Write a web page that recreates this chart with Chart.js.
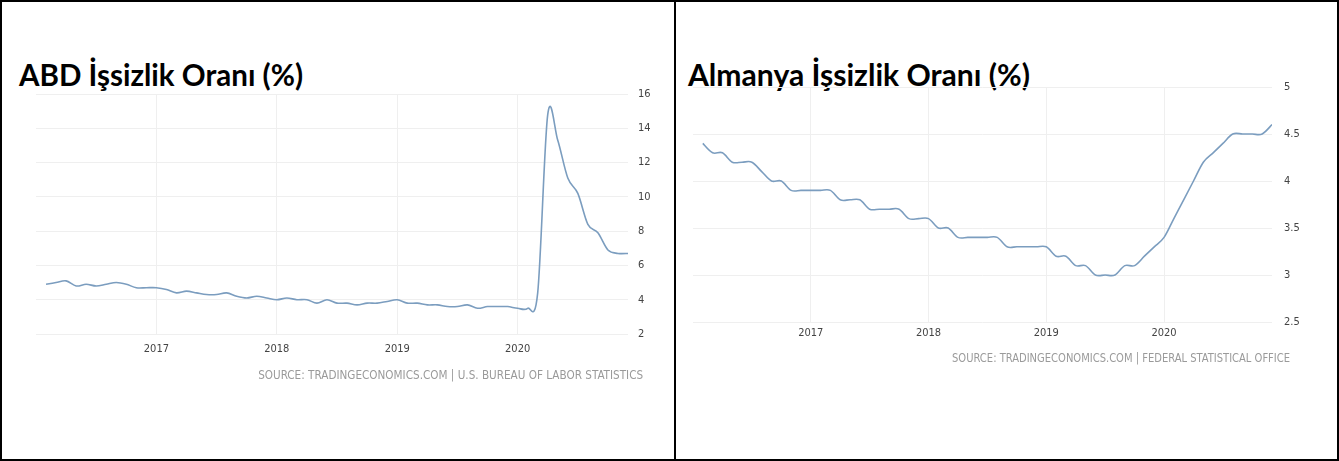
<!DOCTYPE html>
<html>
<head>
<meta charset="utf-8">
<script src="https://cdn.jsdelivr.net/npm/chart.js@4.4.0/dist/chart.umd.min.js"></script>
<style>
  html, body { margin: 0; padding: 0; background: #fff; }
  body { width: 1339px; height: 461px; position: relative; overflow: hidden; }
  .panel { position: absolute; top: 0; height: 461px; border: 2px solid #000; box-sizing: border-box; }
  .title { position: absolute; top: 56px; font-family: Lato, 'Open Sans', sans-serif; font-weight: 700;
           font-size: 30px; color: #000; white-space: nowrap; transform-origin: left center; }
  .source { position: absolute; font-family: 'Liberation Sans Narrow', 'DejaVu Sans Condensed', 'Liberation Sans', sans-serif;
            font-size: 11.5px; color: #9a9a9a; white-space: nowrap; transform-origin: right center; }
  canvas { position: absolute; }
</style>
</head>
<body>
<div class="panel" style="left:0; width:676px;"></div>
<div class="panel" style="left:674px; width:665px;"></div>

<div class="title" id="titleUS" style="left:19px;">ABD İşsizlik Oranı (%)</div>
<div class="title" id="titleDE" style="left:688px;">Almanya İşsizlik Oranı (%)</div>

<canvas id="chartUS" width="676" height="300" style="left:0; top:74px;"></canvas>
<canvas id="chartDE" width="663" height="295" style="left:676px; top:67px;"></canvas>

<div class="source" id="srcUS" style="right:696px; top:368px;">SOURCE: TRADINGECONOMICS.COM | U.S. BUREAU OF LABOR STATISTICS</div>
<div class="source" id="srcDE" style="right:49px; top:351px;">SOURCE: TRADINGECONOMICS.COM | FEDERAL STATISTICAL OFFICE</div>

<script>
// months Feb 2016 - Dec 2020
const months = [
  '2016-02','2016-03','2016-04','2016-05','2016-06','2016-07','2016-08','2016-09','2016-10','2016-11','2016-12',
  '2017-01','2017-02','2017-03','2017-04','2017-05','2017-06','2017-07','2017-08','2017-09','2017-10','2017-11','2017-12',
  '2018-01','2018-02','2018-03','2018-04','2018-05','2018-06','2018-07','2018-08','2018-09','2018-10','2018-11','2018-12',
  '2019-01','2019-02','2019-03','2019-04','2019-05','2019-06','2019-07','2019-08','2019-09','2019-10','2019-11','2019-12',
  '2020-01','2020-02','2020-03','2020-04','2020-05','2020-06','2020-07','2020-08','2020-09','2020-10','2020-11','2020-12'
];

const usRate = [
  4.9, 5.0, 5.1, 4.8, 4.9, 4.8, 4.9, 5.0, 4.9, 4.7, 4.7,
  4.7, 4.6, 4.4, 4.5, 4.4, 4.3, 4.3, 4.4, 4.2, 4.1, 4.2, 4.1,
  4.0, 4.1, 4.0, 4.0, 3.8, 4.0, 3.8, 3.8, 3.7, 3.8, 3.8, 3.9,
  4.0, 3.8, 3.8, 3.7, 3.7, 3.6, 3.6, 3.7, 3.5, 3.6, 3.6, 3.6,
  3.5, 3.5, 4.4, 14.8, 13.3, 11.1, 10.2, 8.4, 7.9, 6.9, 6.7, 6.7
];

const deRate = [
  4.4, 4.3, 4.3, 4.2, 4.2, 4.2, 4.1, 4.0, 4.0, 3.9, 3.9,
  3.9, 3.9, 3.9, 3.8, 3.8, 3.8, 3.7, 3.7, 3.7, 3.7, 3.6, 3.6,
  3.6, 3.5, 3.5, 3.4, 3.4, 3.4, 3.4, 3.4, 3.3, 3.3, 3.3, 3.3,
  3.3, 3.2, 3.2, 3.1, 3.1, 3.0, 3.0, 3.0, 3.1, 3.1, 3.2, 3.3,
  3.4, 3.6, 3.8, 4.0, 4.2, 4.3, 4.4, 4.5, 4.5, 4.5, 4.5, 4.6
];

const yearTicks = [2017, 2018, 2019, 2020];
const usTicks = [2, 4, 6, 8, 10, 12, 14, 16];
const deTicks = [2.5, 3, 3.5, 4, 4.5, 5];

const tickFont = "'Liberation Sans Narrow', 'DejaVu Sans Condensed', 'Liberation Sans', sans-serif";

function monthToX(m) {
    const parts = m.split('-');
    return Number(parts[0]) + (Number(parts[1]) - 1) / 12;
}

// the source chart uses a plain catmull-rom spline (overshoots at the 2020 jump)
function setSplinePoints(chart) {
    const meta = chart.getDatasetMeta(0);
    const pts = meta.data;
    for (let i = 0; i < pts.length; i++) {
        const prev = pts[Math.max(i - 1, 0)];
        const next = pts[Math.min(i + 1, pts.length - 1)];
        const tx = (next.x - prev.x) / 6;
        const ty = (next.y - prev.y) / 6;
        pts[i].cp1x = pts[i].x - tx;
        pts[i].cp1y = pts[i].y - ty;
        pts[i].cp2x = pts[i].x + tx;
        pts[i].cp2y = pts[i].y + ty;
    }
    meta.dataset._pointsUpdated = true;
}

const splinePlugin = {
    id: 'catmullRom',
    afterDatasetsUpdate: chart => setSplinePoints(chart),
    beforeDatasetsDraw: chart => setSplinePoints(chart)
};

function makeChart(id, values, yTicks, opts) {
    const ctx = document.getElementById(id).getContext('2d');
    return new Chart(ctx, {
        type: 'line',
        data: {
            datasets: [{
                data: months.map((m, i) => ({ x: monthToX(m), y: values[i] })),
                borderColor: '#7b9dbf',
                borderWidth: 1.6,
                pointRadius: 0,
                tension: 0.4,
                fill: false
            }]
        },
        plugins: [splinePlugin],
        options: {
            responsive: false,
            animation: false,
            layout: { padding: opts.padding },
            plugins: { legend: { display: false }, tooltip: { enabled: false } },
            scales: {
                x: {
                    type: 'linear',
                    min: 2016,
                    max: 2020 + 11 / 12,
                    afterBuildTicks: axis => { axis.ticks = yearTicks.map(v => ({ value: v })); },
                    afterFit: scale => { scale.height = opts.xHeight; },
                    grid: { color: '#efefef', drawTicks: false },
                    border: { display: false },
                    ticks: {
                        padding: opts.xPad,
                        color: '#444',
                        font: { family: tickFont, size: 11 },
                        maxRotation: 0,
                        callback: v => String(v)
                    }
                },
                y: {
                    position: 'right',
                    min: yTicks[0],
                    max: yTicks[yTicks.length - 1],
                    afterBuildTicks: axis => { axis.ticks = yTicks.map(v => ({ value: v })); },
                    afterFit: scale => { scale.width = opts.yWidth; },
                    grid: { color: '#efefef', drawTicks: false },
                    border: { display: false },
                    ticks: {
                        padding: opts.yPad,
                        color: '#444',
                        font: { family: tickFont, size: 11 },
                        callback: v => String(v)
                    }
                }
            }
        }
    });
}

makeChart('chartUS', usRate, usTicks, {
    padding: { left: 36, top: 20, right: 0, bottom: 0 },
    xHeight: 40, yWidth: 48, xPad: 9, yPad: 10
});

makeChart('chartDE', deRate, deTicks, {
    padding: { left: 17, top: 20, right: 0, bottom: 0 },
    xHeight: 40, yWidth: 67, xPad: 5, yPad: 12
});

// stretch texts to the widths seen in the picture
function fitWidth(id, target) {
    const el = document.getElementById(id);
    const w = el.getBoundingClientRect().width;
    el.style.transform = 'scaleX(' + (target / w) + ')';
}
fitWidth('titleUS', 284);
fitWidth('titleDE', 342);
fitWidth('srcUS', 385);
fitWidth('srcDE', 338);
</script>
</body>
</html>
